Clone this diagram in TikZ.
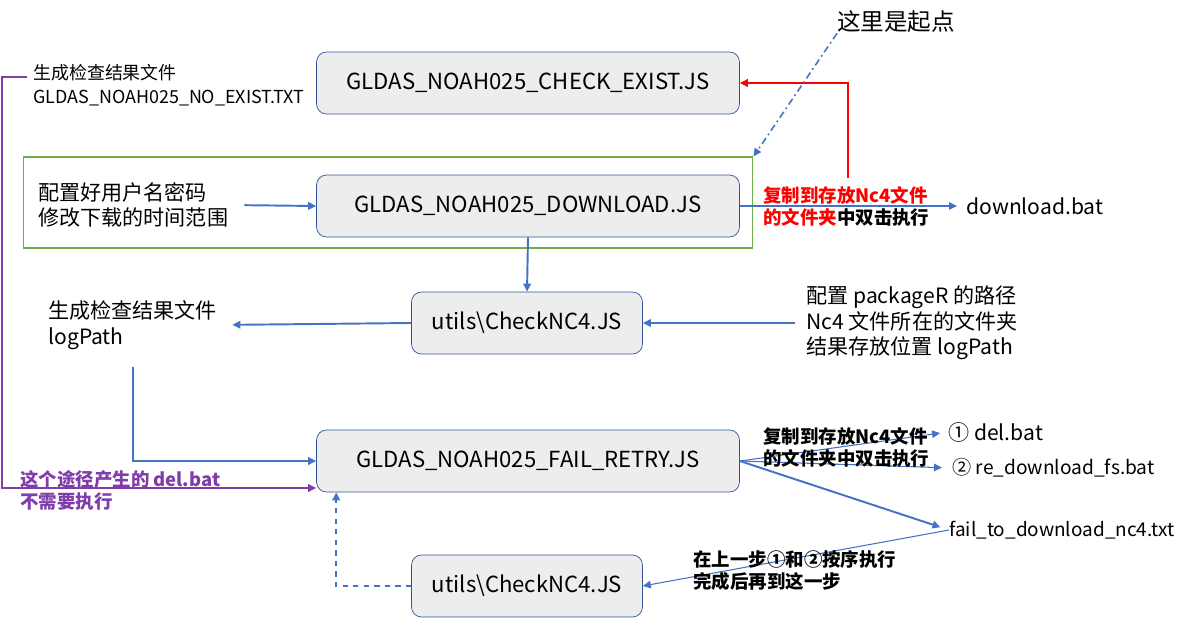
\documentclass[tikz,border=0pt]{standalone}
\usepackage{fontspec}
\setmainfont{Noto Sans CJK SC}
\usetikzlibrary{arrows.meta,calc}

\definecolor{boxfill}{RGB}{237,237,237}
\definecolor{boxline}{RGB}{47,85,151}
\definecolor{flowblue}{RGB}{68,114,196}
\definecolor{framegreen}{RGB}{112,173,71}
\definecolor{notepurple}{RGB}{128,60,170}
\definecolor{copyred}{RGB}{255,0,0}

\tikzset{
  jsbox/.style={draw=boxline, fill=boxfill, rounded corners=0.2cm, minimum height=1.24cm,
    font=\fontsize{12.6}{14}\selectfont},
  jswide/.style={jsbox, minimum width=8.46cm},
  jsnarrow/.style={jsbox, minimum width=4.62cm},
  note/.style={anchor=west, align=left, inner sep=0pt, font=\fontsize{12}{14.5}\selectfont},
  hint/.style={anchor=west, align=left, inner sep=0pt, font=\fontsize{10.5}{12.5}\selectfont\bfseries},
  tip/.style={-{Triangle[length=1.6mm,width=1.5mm]}},
  flow/.style={tip, draw=flowblue, line width=1.1pt},
  thinflow/.style={tip, draw=flowblue, line width=0.6pt},
}

\begin{document}
\begin{tikzpicture}[x=0.02cm, y=-0.02cm]

  \useasboundingbox (0,0) rectangle (1187,619);

  \node[draw=framegreen, line width=0.6pt, minimum width=14.6cm, minimum height=1.82cm] (frame) at (388,202.5) {};

  \node[jswide] (check) at (528,83) {GLDAS\_NOAH025\_CHECK\_EXIST.JS};
  \node[jswide] (download) at (528,206) {GLDAS\_NOAH025\_DOWNLOAD.JS};
  \node[jsnarrow] (checkA) at (527,323) {utils\textbackslash CheckNC4.JS};
  \node[jswide] (retry) at (528,461) {GLDAS\_NOAH025\_FAIL\_RETRY.JS};
  \node[jsnarrow] (checkB) at (527,586) {utils\textbackslash CheckNC4.JS};

  \node[note, font=\fontsize{10.2}{13.5}\selectfont] (noexist) at (33,85) {生成检查结果文件\\GLDAS\_NOAH025\_NO\_EXIST.TXT};
  \node[note] (account) at (38,205) {配置好用户名密码\\修改下载的时间范围};
  \node[note] (logout) at (48,325) {生成检查结果文件\\logPath};
  \node[note] (config) at (806,323) {配置 packageR 的路径\\Nc4 文件所在的文件夹\\结果存放位置 logPath};
  \node[note, font=\fontsize{13.4}{16}\selectfont] (start) at (837,22) {这里是起点};
  \node[note] (dlbat) at (966,206) {download.bat};
  \node[note] (delbat) at (948,432) {① del.bat};
  \node[note, font=\fontsize{10.9}{13}\selectfont] (redl) at (952,468) {② re\_download\_fs.bat};
  \node[note, font=\fontsize{10.8}{13}\selectfont] (failtxt) at (949,530) {fail\_to\_download\_nc4.txt};

  \node[hint, text=notepurple] (nodel) at (20,490) {这个途径产生的 del.bat\\不需要执行};

  \coordinate (pstart) at (27,77);
  \coordinate (pleft) at (2,488);
  \coordinate (redbase) at (848,178);
  \coordinate (logdrop) at (133,367);

  % download -> download.bat, label on top
  \draw[thinflow, shorten >=0.18cm] (download.east) -- (dlbat.west);
  \node[hint, text=copyred] (copyA) at (763,206) {复制到存放Nc4文件\\的文件夹\textcolor{black}{中双击执行}};
  \draw[tip, draw=copyred, line width=1.1pt] (redbase) |- (check.east);
  \draw[flowblue, line width=0.9pt, dash pattern=on 4pt off 2pt on 1pt off 2pt, tip] (start.south west) -- (frame.north east);

  \draw[flow, shorten <=0.32cm] (account.east) -- (download.west);
  \draw[flow] (download.south) -- (checkA.north);
  \draw[flow, shorten >=0.3cm] (checkA.west) -- (logout.east);
  \draw[flow, shorten <=0.22cm] (config.west) -- (checkA.east);
  \draw[flow] (logdrop) |- (retry.west);

  % retry outputs
  \draw[thinflow, shorten >=0.16cm] (retry.east) -- (delbat.west);
  \draw[thinflow, shorten >=0.2cm] (retry.east) -- (redl.west);
  \draw[flow, shorten >=0.18cm] (retry.east) -- (failtxt.west);
  \draw[thinflow] (failtxt.west) -- (checkB.east);
  \node[hint] (copyB) at (763,447) {复制到存放Nc4文件\\的文件夹中双击执行};
  \node[hint] (order) at (693,571) {在上一步①和②按序执行\\完成后再到这一步};

  \draw[flow, dashed] (checkB.west) -| ($(retry.south west)+(20,0)$);
  \draw[tip, draw=notepurple, line width=1.1pt] (pstart) -| (pleft) -- (retry.west |- pleft);

\end{tikzpicture}
\end{document}
